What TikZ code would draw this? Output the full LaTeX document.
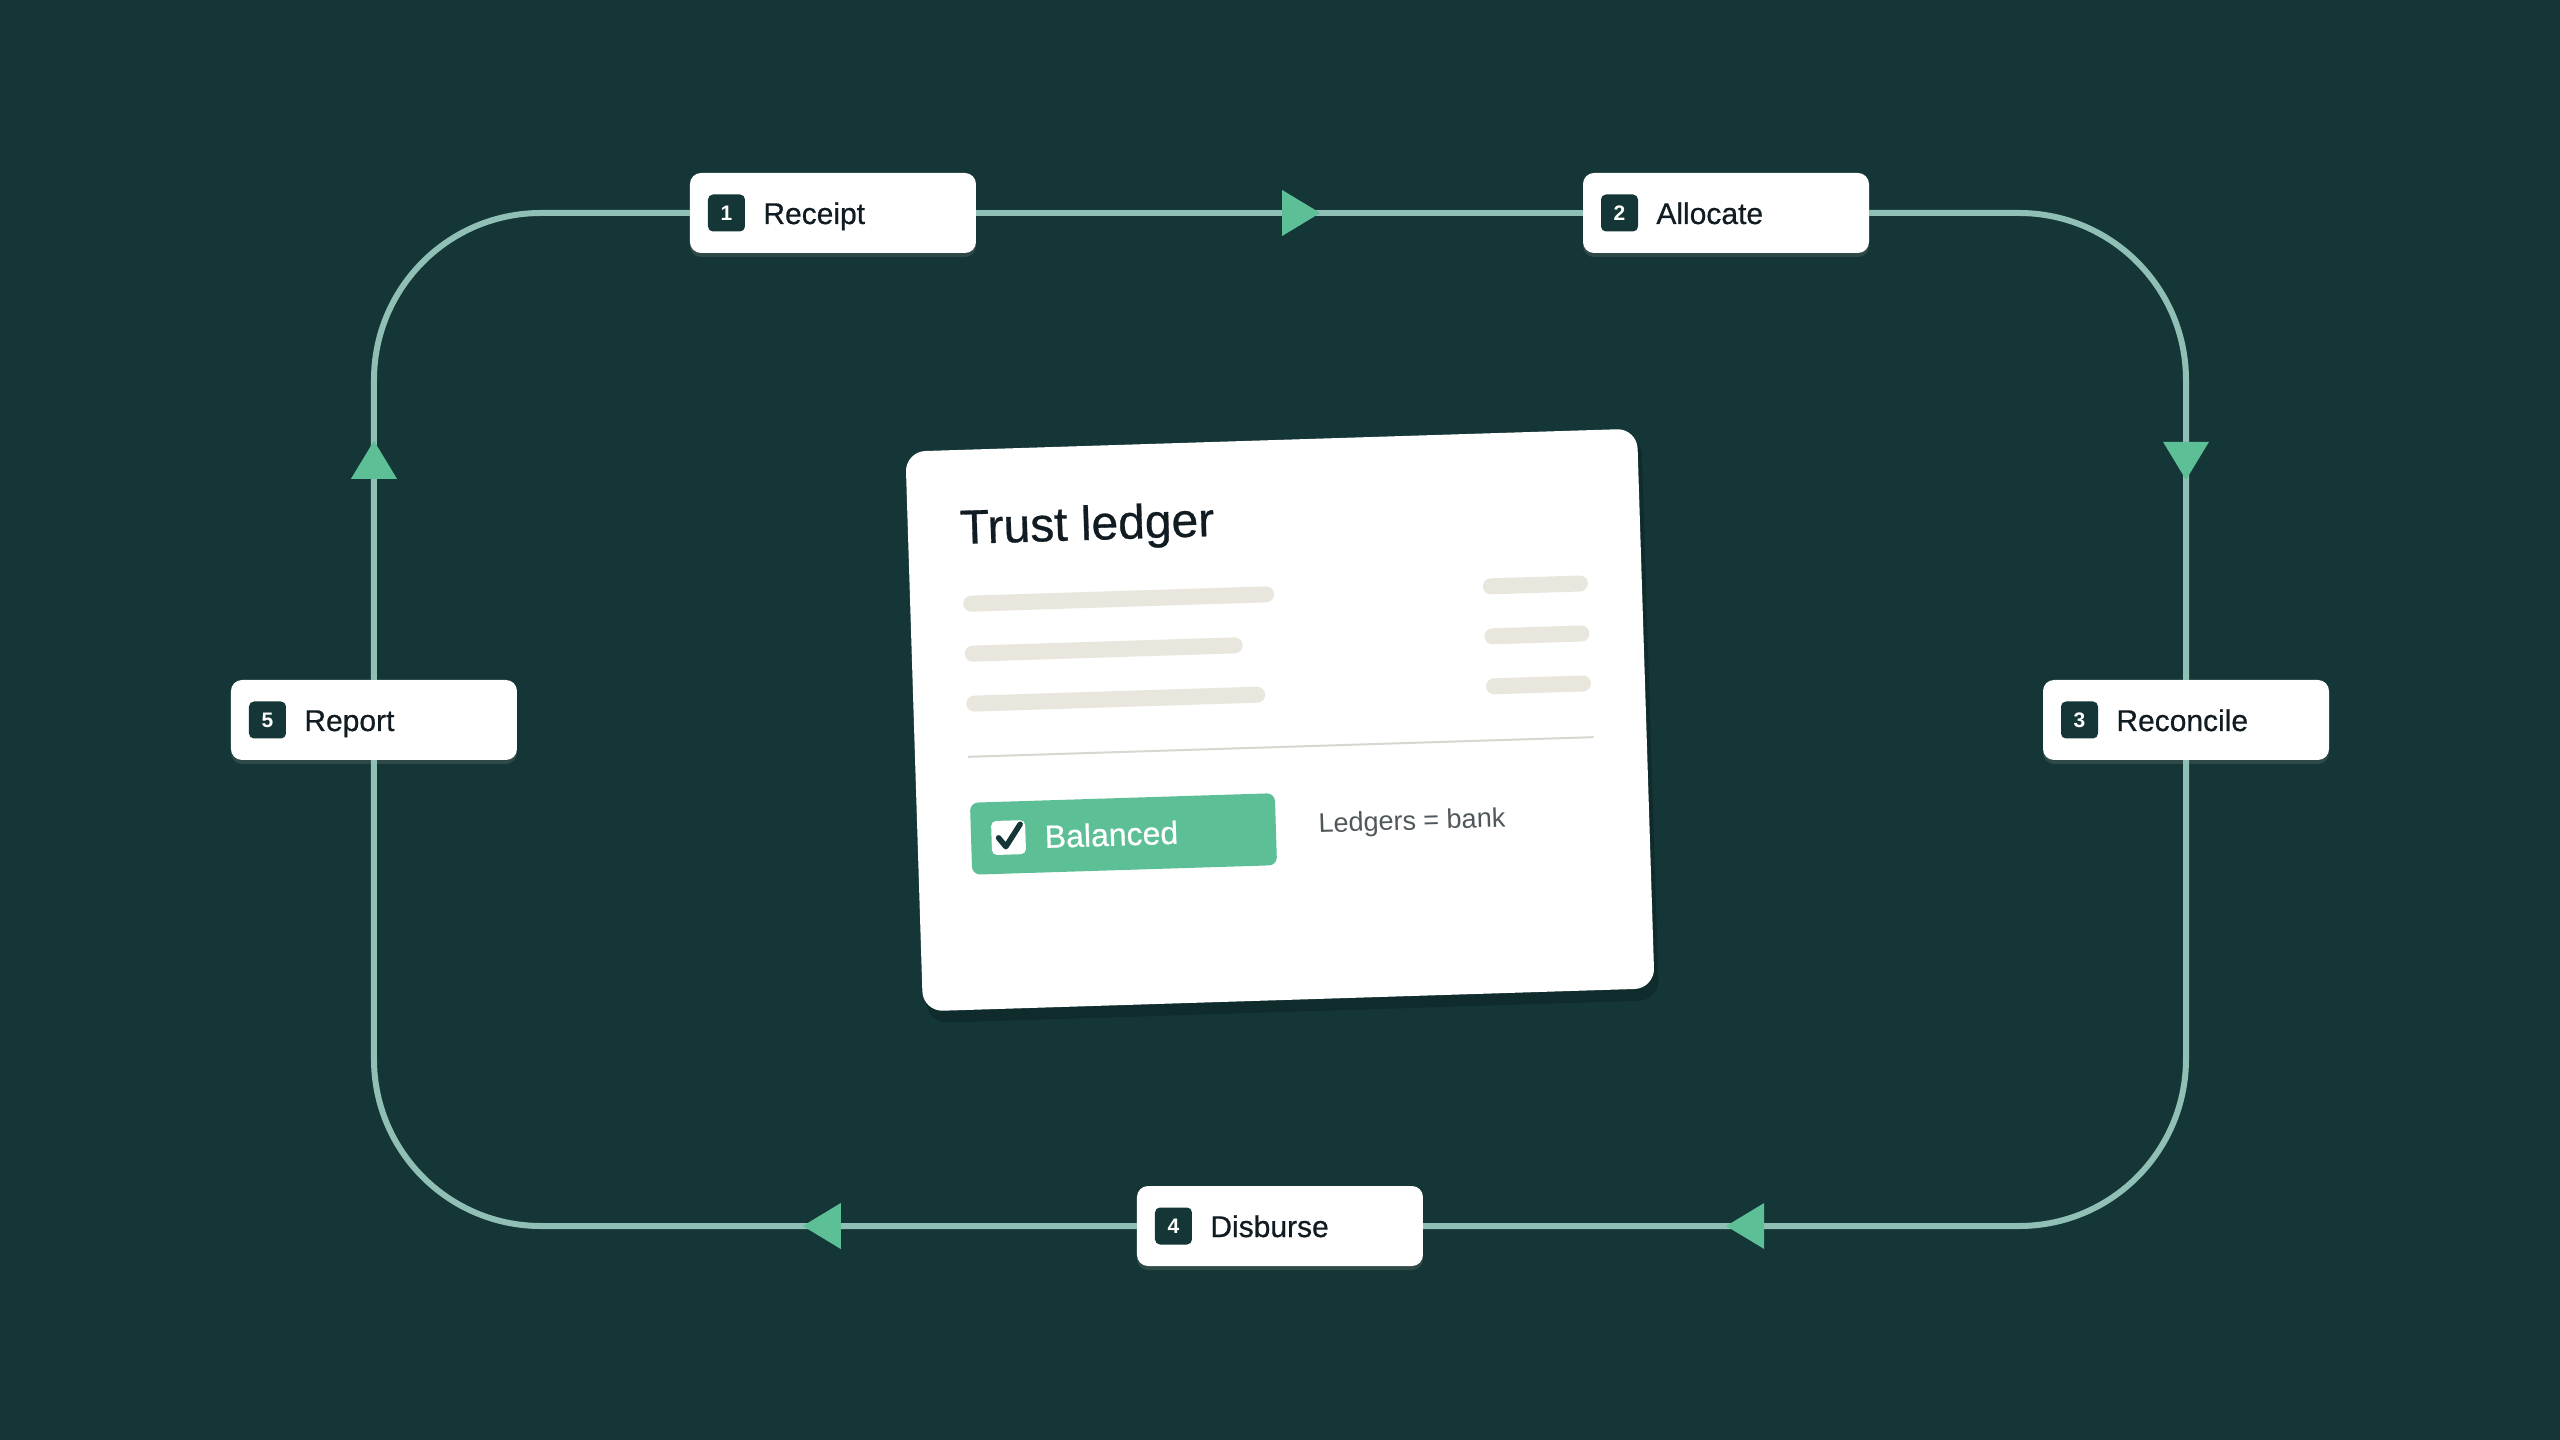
\documentclass[tikz,border=0pt]{standalone}
\usepackage{fontspec}
\setmainfont{Liberation Sans}
\newfontfamily\mediumfont[FakeBold=0.6]{Liberation Sans}
\usetikzlibrary{positioning,arrows.meta,decorations.markings,shadows}

\definecolor{bgdark}{HTML}{153636}
\definecolor{loopgray}{HTML}{8FBFB5}
\definecolor{tipgreen}{HTML}{5CBF96}
\definecolor{inkdark}{HTML}{111B22}
\definecolor{barbeige}{HTML}{E8E6DD}
\definecolor{inkgray}{HTML}{50585B}

\begin{document}
\begin{tikzpicture}[x=1pt,y=1pt,
    stepbox/.style ={rectangle, rounded corners=11pt, fill=white, inner sep=0pt,
      minimum width=286pt, minimum height=80pt,
      drop shadow={shadow xshift=0pt, shadow yshift=-4pt, opacity=0.25}},
    numbox/.style ={rectangle, rounded corners=5pt, fill=bgdark, text=white, inner sep=0pt,
      minimum size=37pt, font=\fontsize{21}{21}\selectfont\bfseries},
    steplabel/.style ={inner sep=0pt, text=inkdark, text height=22pt, text depth=0pt,
      font=\mediumfont\fontsize{30}{30}\selectfont},
    loopline/.style ={draw=loopgray, line width=6pt},
    tipat/.style ={postaction={decorate, decoration={markings, mark=at position #1 with
      {\arrow[tipgreen]{Triangle[length=38pt,width=46pt,line width=0pt]}}}}},
    cardbar/.style ={draw=barbeige, line width=16pt, line cap=round}]
   % background and page size
   \fill[bgdark] (-1280,-720) rectangle (1280,720);
   \useasboundingbox (-1280,-720) rectangle (1280,720);

   % the five steps
   \node[stepbox] (receipt)   at (-447,507) {};
   \node[stepbox] (allocate)  at (446,507)  {};
   \node[stepbox] (reconcile) at (906,0)    {};
   \node[stepbox] (disburse)  at (0,-506)   {};
   \node[stepbox] (report)    at (-906,0)   {};
   \node[numbox, right=18pt of receipt.west]   (receipt-num)   {1};
   \node[numbox, right=18pt of allocate.west]  (allocate-num)  {2};
   \node[numbox, right=18pt of reconcile.west] (reconcile-num) {3};
   \node[numbox, right=18pt of disburse.west]  (disburse-num)  {4};
   \node[numbox, right=18pt of report.west]    (report-num)    {5};
   \node[steplabel, right=18pt of receipt-num]   (receipt-text)   {Receipt};
   \node[steplabel, right=18pt of allocate-num]  (allocate-text)  {Allocate};
   \node[steplabel, right=18pt of reconcile-num] (reconcile-text) {Reconcile};
   \node[steplabel, right=18pt of disburse-num]  (disburse-text)  {Disburse};
   \node[steplabel, right=18pt of report-num]    (report-text)    {Report};

   % the loop
   \draw[loopline, tipat=344pt] (receipt) -- (allocate);
   \draw[loopline, rounded corners=167pt, tipat=512pt] (allocate.east) -| (reconcile.north);
   \draw[loopline, rounded corners=167pt, tipat=854pt] (reconcile.south) |- (disburse.east);
   \draw[loopline, rounded corners=167pt, tipat=334pt] (disburse.west) -| (report.south);
   \draw[loopline, rounded corners=167pt, tipat=239pt] (report.north) |- (receipt.west);

   % the ledger card
   \begin{scope}[rotate=1.8, transform shape]
     \fill[black, opacity=0.2, rounded corners=20pt] (-362,-292) rectangle (370,274);
     \node[rectangle, rounded corners=20pt, fill=white, minimum width=732pt,
       minimum height=560pt] (card) at (0,0) {};
     \node[anchor=base west, inner sep=0pt, text=inkdark,
       font=\mediumfont\fontsize{48}{48}\selectfont] (card-title) at (-314,186) {Trust ledger};
     \draw[cardbar] (-305,126) -- (-10,126);
     \draw[cardbar] (-305,76) -- (-43,76);
     \draw[cardbar] (-305,26) -- (-22,26);
     \draw[cardbar] (215,127) -- (304,127);
     \draw[cardbar] (215,77) -- (304,77);
     \draw[cardbar] (215,27) -- (304,27);
     \draw[draw=barbeige!85!gray, line width=2pt] (-313,-27) -- (313,-27);
     \node[rectangle, rounded corners=8pt, fill=tipgreen, minimum width=305pt,
       minimum height=72pt] (balanced) at (-160,-109) {};
     \node[rectangle, rounded corners=5pt, fill=white, minimum size=34pt,
       inner sep=0pt] (checkbox) at (-275,-109) {};
     \draw[draw=bgdark, line width=5.5pt, line cap=round, line join=round]
       ([shift={(-10,0)}]checkbox.center) -- ([shift={(-3,-9)}]checkbox.center)
       -- ([shift={(12,13)}]checkbox.center);
     \node[anchor=west, inner sep=0pt, text=white, text height=23pt, text depth=0pt,
       font=\mediumfont\fontsize{32}{32}\selectfont] (balanced-text) at (-239,-109) {Balanced};
     \node[anchor=west, inner sep=0pt, text=inkgray, text height=20pt, text depth=0pt,
       font=\fontsize{27}{27}\selectfont] (bank-text) at (35,-104) {Ledgers = bank};
   \end{scope}
\end{tikzpicture}
\end{document}
